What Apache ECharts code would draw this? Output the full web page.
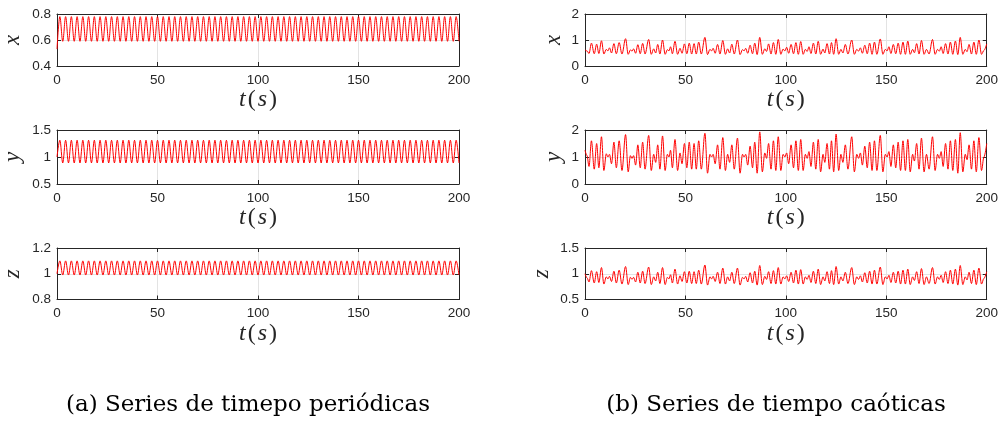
<!DOCTYPE html>
<html>
<head>
<meta charset="utf-8">
<script src="https://cdn.jsdelivr.net/npm/echarts@6.0.0/dist/echarts.min.js"></script>
<style>
  html, body { margin: 0; padding: 0; background: #fff; }
  #chart { width: 1001px; height: 421px; }
</style>
</head>
<body>
<div id="chart"></div>
<script>
// periodic series: extrema, one value every half period
const perStep = 200 / 140;
const perX = [0.53,
  0.78, 0.59, 0.78, 0.59, 0.78, 0.59, 0.78, 0.59, 0.78, 0.59, 0.78, 0.59, 0.78, 0.59, 0.78, 0.59, 0.78, 0.59, 0.78, 0.59,
  0.78, 0.59, 0.78, 0.59, 0.78, 0.59, 0.78, 0.59, 0.78, 0.59, 0.78, 0.59, 0.78, 0.59, 0.78, 0.59, 0.78, 0.59, 0.78, 0.59,
  0.78, 0.59, 0.78, 0.59, 0.78, 0.59, 0.78, 0.59, 0.78, 0.59, 0.78, 0.59, 0.78, 0.59, 0.78, 0.59, 0.78, 0.59, 0.78, 0.59,
  0.78, 0.59, 0.78, 0.59, 0.78, 0.59, 0.78, 0.59, 0.78, 0.59, 0.78, 0.59, 0.78, 0.59, 0.78, 0.59, 0.78, 0.59, 0.78, 0.59,
  0.78, 0.59, 0.78, 0.59, 0.78, 0.59, 0.78, 0.59, 0.78, 0.59, 0.78, 0.59, 0.78, 0.59, 0.78, 0.59, 0.78, 0.59, 0.78, 0.59,
  0.78, 0.59, 0.78, 0.59, 0.78, 0.59, 0.78, 0.59, 0.78, 0.59, 0.78, 0.59, 0.78, 0.59, 0.78, 0.59, 0.78, 0.59, 0.78, 0.59,
  0.78, 0.59, 0.78, 0.59, 0.78, 0.59, 0.78, 0.59, 0.78, 0.59, 0.78, 0.59, 0.78, 0.59, 0.78, 0.59, 0.78, 0.59, 0.78, 0.59];
const perY = [1.00,
  1.31, 0.89, 1.31, 0.89, 1.31, 0.89, 1.31, 0.89, 1.31, 0.89, 1.31, 0.89, 1.31, 0.89, 1.31, 0.89, 1.31, 0.89, 1.31, 0.89,
  1.31, 0.89, 1.31, 0.89, 1.31, 0.89, 1.31, 0.89, 1.31, 0.89, 1.31, 0.89, 1.31, 0.89, 1.31, 0.89, 1.31, 0.89, 1.31, 0.89,
  1.31, 0.89, 1.31, 0.89, 1.31, 0.89, 1.31, 0.89, 1.31, 0.89, 1.31, 0.89, 1.31, 0.89, 1.31, 0.89, 1.31, 0.89, 1.31, 0.89,
  1.31, 0.89, 1.31, 0.89, 1.31, 0.89, 1.31, 0.89, 1.31, 0.89, 1.31, 0.89, 1.31, 0.89, 1.31, 0.89, 1.31, 0.89, 1.31, 0.89,
  1.31, 0.89, 1.31, 0.89, 1.31, 0.89, 1.31, 0.89, 1.31, 0.89, 1.31, 0.89, 1.31, 0.89, 1.31, 0.89, 1.31, 0.89, 1.31, 0.89,
  1.31, 0.89, 1.31, 0.89, 1.31, 0.89, 1.31, 0.89, 1.31, 0.89, 1.31, 0.89, 1.31, 0.89, 1.31, 0.89, 1.31, 0.89, 1.31, 0.89,
  1.31, 0.89, 1.31, 0.89, 1.31, 0.89, 1.31, 0.89, 1.31, 0.89, 1.31, 0.89, 1.31, 0.89, 1.31, 0.89, 1.31, 0.89, 1.31, 0.89];
const perZ = [1.00,
  1.10, 0.99, 1.10, 0.99, 1.10, 0.99, 1.10, 0.99, 1.10, 0.99, 1.10, 0.99, 1.10, 0.99, 1.10, 0.99, 1.10, 0.99, 1.10, 0.99,
  1.10, 0.99, 1.10, 0.99, 1.10, 0.99, 1.10, 0.99, 1.10, 0.99, 1.10, 0.99, 1.10, 0.99, 1.10, 0.99, 1.10, 0.99, 1.10, 0.99,
  1.10, 0.99, 1.10, 0.99, 1.10, 0.99, 1.10, 0.99, 1.10, 0.99, 1.10, 0.99, 1.10, 0.99, 1.10, 0.99, 1.10, 0.99, 1.10, 0.99,
  1.10, 0.99, 1.10, 0.99, 1.10, 0.99, 1.10, 0.99, 1.10, 0.99, 1.10, 0.99, 1.10, 0.99, 1.10, 0.99, 1.10, 0.99, 1.10, 0.99,
  1.10, 0.99, 1.10, 0.99, 1.10, 0.99, 1.10, 0.99, 1.10, 0.99, 1.10, 0.99, 1.10, 0.99, 1.10, 0.99, 1.10, 0.99, 1.10, 0.99,
  1.10, 0.99, 1.10, 0.99, 1.10, 0.99, 1.10, 0.99, 1.10, 0.99, 1.10, 0.99, 1.10, 0.99, 1.10, 0.99, 1.10, 0.99, 1.10, 0.99,
  1.10, 0.99, 1.10, 0.99, 1.10, 0.99, 1.10, 0.99, 1.10, 0.99, 1.10, 0.99, 1.10, 0.99, 1.10, 0.99, 1.10, 0.99, 1.10, 0.99];
const perT = perX.map((_, i) => i * perStep);

// chaotic series: peaks / troughs
const chaosT = [
  0, 1.0, 2.0, 3.2, 4.6, 5.8, 6.9, 8.2, 9.4, 10.6,
  11.4, 12.2, 13.2, 14.4, 15.6, 17.0, 18.4, 20.2, 21.5, 22.6,
  23.4, 24.2, 25.2, 26.3, 27.5, 28.7, 29.9, 31.7, 33.0, 34.2,
  35.2, 36.2, 37.3, 38.6, 39.9, 41.0, 41.8, 42.6, 43.5, 44.8,
  46.1, 47.3, 48.3, 49.5, 50.7, 51.9, 53.1, 54.3, 55.4, 56.6,
  57.9, 59.7, 61.0, 62.2, 63.0, 63.8, 64.8, 66.0, 67.2, 68.6,
  69.9, 71.0, 72.0, 73.1, 74.3, 75.9, 77.2, 78.4, 79.2, 80.0,
  81.0, 82.2, 83.4, 84.5, 85.7, 87.0, 88.3, 89.5, 90.4, 91.4,
  92.6, 93.8, 95.0, 96.2, 97.5, 98.6, 99.5, 100.4, 101.4, 102.6,
  103.8, 105.0, 106.2, 107.4, 108.6, 109.7, 110.6, 111.5, 112.5, 113.7,
  114.9, 116.1, 117.3, 118.5, 119.4, 120.5, 121.7, 122.7, 123.8, 125.0,
  126.3, 127.4, 128.4, 129.6, 130.9, 132.8, 134.1, 135.3, 136.2, 137.1,
  138.1, 139.3, 140.5, 141.7, 142.9, 144.1, 145.3, 147.0, 148.3, 149.5,
  150.4, 151.3, 152.3, 153.5, 154.7, 155.9, 157.1, 158.3, 159.5, 160.7,
  161.9, 163.1, 164.0, 165.1, 166.3, 167.5, 168.8, 170.0, 171.3, 173.0,
  174.3, 175.5, 176.4, 177.3, 178.3, 179.5, 180.7, 181.9, 183.1, 184.4,
  185.6, 186.8, 188.1, 189.3, 190.2, 191.2, 192.4, 193.6, 194.8, 196.1,
  197.4, 198.6, 200.0];
const chaosX = [
  0.62, 0.58, 0.48, 0.88, 0.47, 0.84, 0.48, 0.97, 0.46, 0.64,
  0.58, 0.70, 0.50, 0.86, 0.47, 0.90, 0.46, 1.05, 0.45, 0.62,
  0.57, 0.66, 0.49, 0.82, 0.47, 0.87, 0.46, 1.02, 0.45, 0.66,
  0.50, 0.83, 0.46, 1.00, 0.45, 0.63, 0.58, 0.74, 0.47, 0.95,
  0.45, 0.68, 0.49, 0.85, 0.47, 0.88, 0.46, 0.86, 0.46, 0.92,
  0.46, 1.10, 0.44, 0.64, 0.58, 0.68, 0.49, 0.83, 0.46, 0.98,
  0.45, 0.66, 0.50, 0.84, 0.46, 1.00, 0.44, 0.63, 0.58, 0.68,
  0.49, 0.80, 0.47, 0.88, 0.44, 1.10, 0.45, 0.66, 0.56, 0.85,
  0.46, 0.90, 0.45, 1.02, 0.45, 0.65, 0.58, 0.72, 0.49, 0.83,
  0.47, 0.90, 0.45, 0.94, 0.45, 0.64, 0.56, 0.74, 0.48, 0.88,
  0.46, 0.95, 0.45, 0.65, 0.50, 0.86, 0.46, 0.90, 0.45, 1.05,
  0.45, 0.64, 0.50, 0.83, 0.46, 1.00, 0.45, 0.64, 0.57, 0.70,
  0.49, 0.80, 0.47, 0.88, 0.45, 0.92, 0.45, 1.04, 0.45, 0.64,
  0.58, 0.74, 0.48, 0.83, 0.47, 0.88, 0.45, 0.92, 0.45, 0.96,
  0.45, 0.64, 0.51, 0.86, 0.46, 0.98, 0.45, 0.64, 0.46, 1.02,
  0.45, 0.64, 0.57, 0.74, 0.48, 0.86, 0.46, 0.92, 0.45, 0.96,
  0.44, 1.10, 0.45, 0.64, 0.55, 0.83, 0.46, 0.92, 0.45, 1.00,
  0.45, 0.60, 0.85];
const chaosY = [
  1.25, 1.05, 0.65, 1.60, 0.55, 1.50, 0.60, 1.75, 0.50, 1.12,
  1.00, 1.10, 0.75, 1.55, 0.60, 1.60, 0.50, 1.83, 0.45, 1.05,
  0.95, 1.05, 0.70, 1.45, 0.60, 1.55, 0.55, 1.80, 0.50, 1.10,
  0.80, 1.45, 0.55, 1.78, 0.50, 1.10, 1.00, 1.25, 0.60, 1.65,
  0.50, 1.15, 0.75, 1.50, 0.60, 1.55, 0.55, 1.50, 0.55, 1.60,
  0.55, 1.88, 0.40, 1.10, 1.00, 1.10, 0.75, 1.45, 0.55, 1.72,
  0.50, 1.10, 0.80, 1.45, 0.55, 1.70, 0.40, 1.10, 1.00, 1.10,
  0.70, 1.40, 0.60, 1.55, 0.40, 1.93, 0.45, 1.15, 0.95, 1.50,
  0.55, 1.60, 0.50, 1.75, 0.50, 1.10, 1.00, 1.15, 0.75, 1.45,
  0.60, 1.60, 0.50, 1.65, 0.50, 1.10, 0.95, 1.20, 0.65, 1.55,
  0.55, 1.65, 0.45, 1.10, 0.80, 1.50, 0.55, 1.60, 0.45, 1.85,
  0.50, 1.10, 0.80, 1.45, 0.55, 1.75, 0.45, 1.10, 0.95, 1.15,
  0.70, 1.40, 0.60, 1.55, 0.50, 1.60, 0.50, 1.80, 0.45, 1.10,
  1.00, 1.20, 0.65, 1.45, 0.60, 1.55, 0.50, 1.60, 0.50, 1.65,
  0.45, 1.10, 0.85, 1.50, 0.55, 1.70, 0.45, 1.10, 0.55, 1.75,
  0.50, 1.10, 0.95, 1.20, 0.65, 1.50, 0.55, 1.60, 0.50, 1.65,
  0.40, 1.90, 0.45, 1.10, 0.90, 1.45, 0.55, 1.60, 0.45, 1.72,
  0.50, 1.00, 1.50];
const chaosZ = [
  1.00, 0.92, 0.84, 1.06, 0.82, 1.04, 0.83, 1.12, 0.80, 0.94,
  0.90, 0.95, 0.85, 1.05, 0.82, 1.07, 0.80, 1.14, 0.79, 0.93,
  0.89, 0.93, 0.84, 1.03, 0.82, 1.05, 0.81, 1.13, 0.79, 0.94,
  0.86, 1.03, 0.81, 1.12, 0.79, 0.93, 0.90, 0.98, 0.82, 1.09,
  0.80, 0.96, 0.85, 1.04, 0.82, 1.05, 0.81, 1.04, 0.81, 1.07,
  0.80, 1.17, 0.78, 0.94, 0.90, 0.95, 0.85, 1.03, 0.81, 1.11,
  0.80, 0.94, 0.86, 1.03, 0.81, 1.11, 0.78, 0.93, 0.90, 0.95,
  0.84, 1.02, 0.82, 1.05, 0.78, 1.16, 0.79, 0.95, 0.89, 1.04,
  0.81, 1.06, 0.80, 1.12, 0.80, 0.94, 0.90, 0.96, 0.85, 1.03,
  0.82, 1.07, 0.80, 1.08, 0.80, 0.94, 0.89, 0.97, 0.83, 1.05,
  0.81, 1.09, 0.79, 0.94, 0.86, 1.04, 0.81, 1.06, 0.79, 1.14,
  0.80, 0.94, 0.86, 1.03, 0.81, 1.12, 0.79, 0.94, 0.89, 0.96,
  0.84, 1.02, 0.82, 1.05, 0.80, 1.07, 0.80, 1.13, 0.79, 0.94,
  0.90, 0.97, 0.83, 1.03, 0.82, 1.05, 0.80, 1.07, 0.80, 1.09,
  0.79, 0.94, 0.87, 1.04, 0.81, 1.10, 0.79, 0.94, 0.81, 1.12,
  0.80, 0.94, 0.89, 0.97, 0.83, 1.04, 0.81, 1.07, 0.80, 1.09,
  0.78, 1.16, 0.79, 0.94, 0.88, 1.03, 0.81, 1.07, 0.79, 1.11,
  0.80, 0.91, 1.04];

const captions = ["(a) Series de timepo periódicas", "(b) Series de tiempo caóticas"];

const INK = "#262626";
const SANS = "Liberation Sans";
const SERIF = "Liberation Serif";

const colLeft = [57, 585];
const captionCenter = [248, 776];
const rowTop = [14, 130, 248];
const rowHeight = [52, 54, 51.5];

const panels = [
  { col: 0, row: 0, t: perT, v: perX, name: "x", min: 0.4, max: 0.8, step: 0.2, gap: 33 },
  { col: 0, row: 1, t: perT, v: perY, name: "y", min: 0.5, max: 1.5, step: 0.5, gap: 33 },
  { col: 0, row: 2, t: perT, v: perZ, name: "z", min: 0.8, max: 1.2, step: 0.2, gap: 33 },
  { col: 1, row: 0, t: chaosT, v: chaosX, name: "x", min: 0, max: 2, step: 1, gap: 20 },
  { col: 1, row: 1, t: chaosT, v: chaosY, name: "y", min: 0, max: 2, step: 1, gap: 20 },
  { col: 1, row: 2, t: chaosT, v: chaosZ, name: "z", min: 0.5, max: 1.5, step: 0.5, gap: 32 },
];

const grid = [], xAxis = [], yAxis = [], series = [];

panels.forEach((p, i) => {
  grid.push({ left: colLeft[p.col], width: 402, top: rowTop[p.row], height: rowHeight[p.row] });

  const boxLine = { show: true, onZero: false, lineStyle: { color: INK, width: 1 } };
  const tick = { show: true, inside: true, length: 4, lineStyle: { color: INK, width: 1 } };
  const grey = { show: true, lineStyle: { color: "#e3e3e3", width: 1 } };

  xAxis.push({
    gridIndex: i, type: "value", min: 0, max: 200, interval: 50, position: "bottom",
    axisLine: boxLine, axisTick: tick, splitLine: grey,
    axisLabel: { color: INK, fontFamily: SANS, fontSize: 13.5, margin: 7 },
    name: "{i|t}{n|(}{i|s}{n|)}", nameLocation: "middle", nameGap: 21,
    nameTextStyle: {
      rich: {
        i: { fontFamily: SERIF, fontStyle: "italic", fontSize: 24, color: INK, padding: [0, 1, 0, 1] },
        n: { fontFamily: SERIF, fontSize: 24, color: INK, padding: [0, 1, 0, 1] },
      },
    },
  });
  xAxis.push({
    gridIndex: i, type: "value", min: 0, max: 200, interval: 50, position: "top",
    axisLine: boxLine, axisTick: tick, axisLabel: { show: false }, splitLine: { show: false },
  });

  yAxis.push({
    gridIndex: i, type: "value", min: p.min, max: p.max, interval: p.step, position: "left",
    axisLine: boxLine, axisTick: tick, splitLine: grey,
    axisLabel: { color: INK, fontFamily: SANS, fontSize: 13.5, margin: 6 },
    name: p.name, nameLocation: "middle", nameGap: p.gap,
    nameTextStyle: { fontFamily: SERIF, fontStyle: "italic", fontSize: 23, color: INK },
  });
  yAxis.push({
    gridIndex: i, type: "value", min: p.min, max: p.max, interval: p.step, position: "right",
    axisLine: boxLine, axisTick: tick, axisLabel: { show: false }, splitLine: { show: false },
  });

  series.push({
    type: "line",
    xAxisIndex: 2 * i,
    yAxisIndex: 2 * i,
    data: p.t.map((t, k) => [t, p.v[k]]),
    showSymbol: false,
    smooth: 0.35,
    smoothMonotone: "x",
    lineStyle: { color: "#ff0000", width: 1 },
    z: 3,
  });
});

const chart = echarts.init(document.getElementById("chart"));
chart.setOption({
  animation: false,
  backgroundColor: "#fff",
  grid, xAxis, yAxis, series,
  graphic: captions.map((txt, k) => ({
    type: "text",
    x: captionCenter[k],
    y: 405,
    style: {
      text: txt, fontFamily: "DejaVu Serif", fontSize: 23, fill: "#000",
      align: "center", verticalAlign: "middle",
    },
  })),
});
</script>
</body>
</html>
